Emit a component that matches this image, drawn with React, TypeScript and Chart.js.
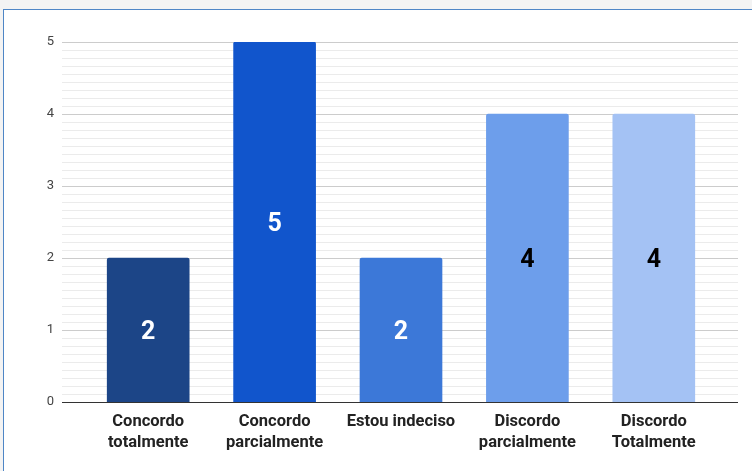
import React, { useEffect, useRef } from "react";
import { Chart, registerables } from "chart.js";

Chart.register(...registerables);

const categories: string[][] = [
  ["Concordo", "totalmente"],
  ["Concordo", "parcialmente"],
  ["Estou indeciso"],
  ["Discordo", "parcialmente"],
  ["Discordo", "Totalmente"],
];
const values: number[] = [2, 5, 2, 4, 4];
const barColors: string[] = ["#1c4587", "#1155cc", "#3c78d8", "#6d9eeb", "#a4c2f4"];
const labelColors: string[] = ["#ffffff", "#ffffff", "#ffffff", "#000000", "#000000"];
const yTicks: number[] = [0, 1, 2, 3, 4, 5];
const minorPerMajor = 9;

const gridPlugin = {
  id: "customGrid",
  beforeDatasetsDraw(chart: any) {
    const { ctx } = chart;
    const y = chart.scales.y;
    const left = chart.chartArea.left - 23;
    const right = chart.chartArea.right + 21;
    ctx.save();
    for (let i = 0; i < yTicks.length; i++) {
      const v = yTicks[i];
      if (i < yTicks.length - 1) {
        for (let k = 1; k < minorPerMajor; k++) {
          const py = Math.round(y.getPixelForValue(v + k / minorPerMajor)) + 0.5;
          ctx.strokeStyle = "#ebebeb";
          ctx.lineWidth = 1;
          ctx.beginPath();
          ctx.moveTo(left, py);
          ctx.lineTo(right, py);
          ctx.stroke();
        }
      }
      if (v !== 0) {
        const py = Math.round(y.getPixelForValue(v)) + 0.5;
        ctx.strokeStyle = "#cccccc";
        ctx.lineWidth = 1;
        ctx.beginPath();
        ctx.moveTo(left, py);
        ctx.lineTo(right, py);
        ctx.stroke();
      }
    }
    ctx.restore();
  },
  afterDatasetsDraw(chart: any) {
    const { ctx } = chart;
    const y = chart.scales.y;
    const left = chart.chartArea.left - 23;
    const right = chart.chartArea.right + 21;
    const py = Math.round(y.getPixelForValue(0)) + 0.5;
    ctx.save();
    ctx.strokeStyle = "#333333";
    ctx.lineWidth = 1;
    ctx.beginPath();
    ctx.moveTo(left, py);
    ctx.lineTo(right, py);
    ctx.stroke();
    const meta = chart.getDatasetMeta(0);
    ctx.font = "bold 25px Roboto";
    ctx.textAlign = "center";
    ctx.textBaseline = "middle";
    meta.data.forEach((bar: any, i: number) => {
      const cy = (bar.y + bar.base) / 2;
      ctx.fillStyle = labelColors[i];
      ctx.fillText(String(values[i]), bar.x, cy + 3);
    });
    ctx.restore();
  },
};

export default function App() {
  const ref = useRef<HTMLCanvasElement>(null);

  useEffect(() => {
    document.body.style.margin = "0";
    const chart = new Chart(ref.current!, {
      type: "bar",
      data: {
        labels: categories,
        datasets: [
          {
            data: values,
            backgroundColor: barColors,
            barThickness: 82,
            borderRadius: 2,
            borderSkipped: "bottom",
          },
        ],
      },
      options: {
        animation: false,
        responsive: false,
        devicePixelRatio: 1,
        layout: { padding: { left: 25, right: 35, top: 42, bottom: 0 } },
        plugins: { legend: { display: false }, tooltip: { enabled: false } },
        scales: {
          x: {
            grid: { display: false, drawTicks: false },
            border: { display: false },
            ticks: {
              color: "#222222",
              font: { family: "Roboto", size: 16.5, weight: "bold", lineHeight: 1.27 },
              padding: 9,
              maxRotation: 0,
              autoSkip: false,
            },
            afterFit: (s: any) => {
              s.height = 69;
            },
          },
          y: {
            min: 0,
            max: 5,
            afterBuildTicks: (s: any) => {
              s.ticks = yTicks.map((v) => ({ value: v }));
            },
            grid: { display: false, drawTicks: false },
            border: { display: false },
            ticks: {
              color: "#444444",
              font: { family: "Roboto", size: 13 },
              padding: 31,
            },
            afterFit: (s: any) => {
              s.width = 60;
            },
          },
        },
      },
      plugins: [gridPlugin],
    });
    return () => chart.destroy();
  }, []);

  return (
    <div style={{ position: "relative", width: 752, height: 471, background: "#f3f3f3", overflow: "hidden" }}>
      <div
        style={{
          position: "absolute",
          left: 3,
          top: 9,
          width: 800,
          height: 500,
          background: "#ffffff",
          borderLeft: "1.5px solid #4f86c6",
          borderTop: "1.5px solid #4f86c6",
        }}
      />
      <canvas ref={ref} width={752} height={471} style={{ position: "absolute", left: 0, top: 0 }} />
    </div>
  );
}
